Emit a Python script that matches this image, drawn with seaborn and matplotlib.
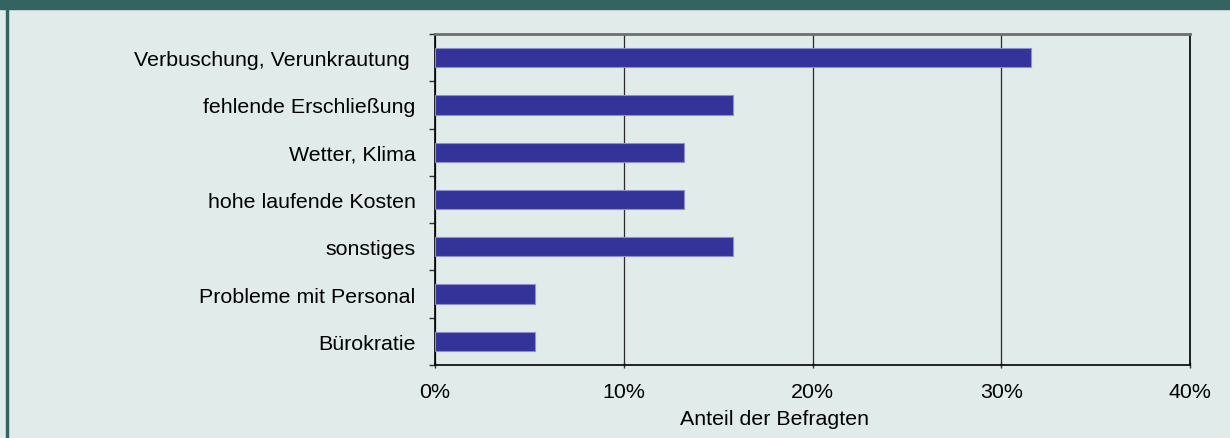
import matplotlib
matplotlib.use("Agg")
import matplotlib.pyplot as plt
import seaborn as sns
import pandas as pd
import numpy as np
from matplotlib.ticker import FuncFormatter, FixedLocator

categories = ["Verbuschung, Verunkrautung ", "fehlende Erschließung", "Wetter, Klima",
              "hohe laufende Kosten", "sonstiges", "Probleme mit Personal", "Bürokratie"]
values = [31.6, 15.8, 13.2, 13.2, 15.8, 5.3, 5.3]
x_ticks = [0, 10, 20, 30, 40]
x_label = "Anteil der Befragten"

BG = "#E1EBE9"
TEAL = "#336461"
BAR = "#333399"
FS = 15.4

sns.set_theme(style="white")
plt.rcParams["font.family"] = ["Liberation Sans", "DejaVu Sans"]

df = pd.DataFrame({"cat": categories, "val": values})

fig = plt.figure(figsize=(12.3, 4.39), dpi=100, facecolor=BG)
# header band and left border
fig.patches.append(plt.Rectangle((0, 1 - 10 / 439), 1, 10 / 439, transform=fig.transFigure,
                                 color=TEAL, zorder=0))
fig.patches.append(plt.Rectangle((6 / 1230, 0), 2 / 1230, 1, transform=fig.transFigure,
                                 color=TEAL, zorder=0))

ax = fig.add_axes([435 / 1230, 1 - 366 / 439, (1190 - 435) / 1230, (366 - 35) / 439])
ax.set_facecolor(BG)
sns.barplot(data=df, x="val", y="cat", orient="h", color=BAR, width=0.41,
            edgecolor="#8f8fd0", linewidth=0.8, saturation=1, ax=ax, zorder=3)

ax.set_xlim(0, 40)
ax.set_ylim(len(categories) - 0.5, -0.5)
ax.set_xticks(x_ticks)
ax.xaxis.set_major_formatter(FuncFormatter(lambda v, p: f"{v:.0f}%"))
ax.grid(axis="x", color="#2a2a2a", linewidth=0.9, zorder=1)
ax.grid(axis="y", visible=False)
ax.set_axisbelow(True)

ax.yaxis.set_minor_locator(FixedLocator(np.arange(-0.5, len(categories), 1.0)))
ax.tick_params(axis="y", which="major", length=0, pad=14, labelsize=FS, labelcolor="black")
ax.tick_params(axis="y", which="minor", length=4.5, width=1, color="#333333", left=True)
ax.tick_params(axis="x", which="major", length=4, width=1, color="#333333", bottom=True,
               direction="inout", pad=10, labelsize=FS, labelcolor="black")

ax.set_ylabel("")
ax.set_xlabel(x_label, fontsize=FS, color="black")
ax.xaxis.set_label_coords((775 - 435) / 755, -0.134)
ax.xaxis.label.set_va("top")

for s in ["left", "bottom", "right"]:
    ax.spines[s].set_visible(True)
    ax.spines[s].set_color("black")
    ax.spines[s].set_linewidth(1.2)
ax.spines["top"].set_visible(True)
ax.spines["top"].set_color("#6e6e6e")
ax.spines["top"].set_linewidth(2)

fig.savefig("out.png", dpi=100, facecolor=BG)
